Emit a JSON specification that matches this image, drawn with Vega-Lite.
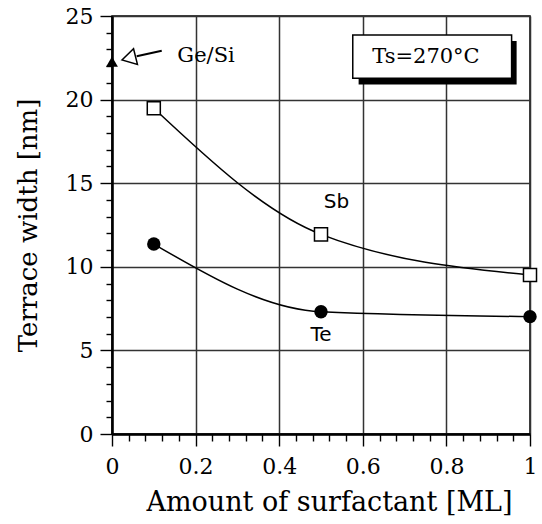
{
  "$schema": "https://vega.github.io/schema/vega-lite/v6.json",
  "width": 418,
  "height": 418,
  "autosize": "none",
  "padding": {"left": 112, "top": 16, "right": 12, "bottom": 90},
  "background": "white",
  "config": {
    "view": {"stroke": "black", "strokeWidth": 1.5},
    "axis": {
      "labelFont": "DejaVu Serif",
      "labelFontSize": 22,
      "labelColor": "black",
      "titleFont": "DejaVu Serif",
      "titleFontSize": 26,
      "titleFontWeight": "normal",
      "titleColor": "black",
      "tickColor": "black",
      "domainColor": "black",
      "gridColor": "#333333",
      "gridWidth": 1.5
    }
  },
  "datasets": {
    "series": [
      {"series": "Sb", "x": 0.1, "y": 19.48},
      {"series": "Sb", "x": 0.5, "y": 11.94},
      {"series": "Sb", "x": 1.0, "y": 9.51},
      {"series": "Te", "x": 0.1, "y": 11.36},
      {"series": "Te", "x": 0.5, "y": 7.31},
      {"series": "Te", "x": 1.0, "y": 7.02}
    ],
    "gesi": [{"x": 0, "y": 22.27}],
    "shadow": [{"x": 0.59, "x2": 0.968, "y": 23.5, "y2": 20.91}],
    "box": [{"x": 0.576, "x2": 0.956, "y": 23.86, "y2": 21.27}],
    "arrowline": [{"x": 0.059, "y": 22.59, "x2": 0.119, "y2": 22.92}],
    "arrowhead": [{"x": 0.04, "y": 22.47}],
    "serifLabels": [
      {"label": "Ge/Si", "x": 0.225, "y": 22.6},
      {"label": "Ts=270°C", "x": 0.751, "y": 22.57}
    ],
    "sansLabels": [
      {"label": "Sb", "x": 0.537, "y": 13.85},
      {"label": "Te", "x": 0.5, "y": 5.92}
    ]
  },
  "layer": [
    {
      "data": {"name": "shadow"},
      "mark": {"type": "rect", "color": "black"},
      "encoding": {
        "x": {
          "field": "x", "type": "quantitative",
          "scale": {"domain": [0, 1], "nice": false},
          "axis": {
            "orient": "bottom",
            "values": [0, 0.04, 0.08, 0.12, 0.16, 0.2, 0.24, 0.28, 0.32, 0.36, 0.4, 0.44, 0.48, 0.52, 0.56, 0.6, 0.64, 0.68, 0.72, 0.76, 0.8, 0.84, 0.88, 0.92, 0.96, 1],
            "tickCount": 200,
            "labelExpr": "abs(datum.value * 5 - round(datum.value * 5)) < 0.001 ? format(datum.value, '~g') : ''",
            "grid": true,
            "gridOpacity": {"condition": {"test": "abs(datum.value * 5 - round(datum.value * 5)) < 0.001", "value": 1}, "value": 0},
            "tickSize": {"condition": {"test": "abs(datum.value * 5 - round(datum.value * 5)) < 0.001", "value": 12}, "value": 7},
            "tickWidth": 1.4,
            "domainWidth": 2.5,
            "labelPadding": 10,
            "labelFlush": false,
            "labelOverlap": false,
            "title": "Amount of surfactant [ML]",
            "titleFontSize": 27,
            "titleX": 217,
            "titleAlign": "center",
            "titlePadding": 12
          }
        },
        "x2": {"field": "x2"},
        "y": {
          "field": "y", "type": "quantitative",
          "scale": {"domain": [0, 25], "nice": false},
          "axis": {
            "orient": "left",
            "values": [0, 1, 2, 3, 4, 5, 6, 7, 8, 9, 10, 11, 12, 13, 14, 15, 16, 17, 18, 19, 20, 21, 22, 23, 24, 25],
            "tickCount": 200,
            "labelExpr": "datum.value % 5 === 0 ? format(datum.value, 'd') : ''",
            "grid": true,
            "gridOpacity": {"condition": {"test": "datum.value % 5 === 0", "value": 1}, "value": 0},
            "tickSize": {"condition": {"test": "datum.value % 5 === 0", "value": 12}, "value": 6},
            "tickWidth": 1.4,
            "domainWidth": 2.5,
            "labelPadding": 7,
            "labelFlush": false,
            "labelOverlap": false,
            "title": "Terrace width [nm]",
            "titlePadding": 24
          }
        },
        "y2": {"field": "y2"}
      }
    },
    {
      "data": {"name": "box"},
      "mark": {"type": "rect", "fill": "white", "stroke": "black", "strokeWidth": 1.5},
      "encoding": {
        "x": {"field": "x", "type": "quantitative"},
        "x2": {"field": "x2"},
        "y": {"field": "y", "type": "quantitative"},
        "y2": {"field": "y2"}
      }
    },
    {
      "data": {"name": "series"},
      "mark": {"type": "line", "interpolate": "monotone", "color": "black", "strokeWidth": 1.5},
      "encoding": {
        "x": {"field": "x", "type": "quantitative"},
        "y": {"field": "y", "type": "quantitative"},
        "detail": {"field": "series", "type": "nominal"}
      }
    },
    {
      "data": {"name": "series"},
      "transform": [{"filter": "datum.series === 'Sb'"}],
      "mark": {"type": "point", "shape": "square", "filled": true, "fill": "white", "stroke": "black", "strokeWidth": 1.5, "size": 170, "opacity": 1},
      "encoding": {
        "x": {"field": "x", "type": "quantitative"},
        "y": {"field": "y", "type": "quantitative"}
      }
    },
    {
      "data": {"name": "series"},
      "transform": [{"filter": "datum.series === 'Te'"}],
      "mark": {"type": "point", "shape": "circle", "filled": true, "color": "black", "size": 180, "opacity": 1},
      "encoding": {
        "x": {"field": "x", "type": "quantitative"},
        "y": {"field": "y", "type": "quantitative"}
      }
    },
    {
      "data": {"name": "gesi"},
      "mark": {"type": "point", "shape": "triangle-up", "filled": true, "color": "black", "size": 140, "opacity": 1},
      "encoding": {
        "x": {"field": "x", "type": "quantitative"},
        "y": {"field": "y", "type": "quantitative"}
      }
    },
    {
      "data": {"name": "arrowline"},
      "mark": {"type": "rule", "color": "black", "strokeWidth": 2},
      "encoding": {
        "x": {"field": "x", "type": "quantitative"},
        "y": {"field": "y", "type": "quantitative"},
        "x2": {"field": "x2"},
        "y2": {"field": "y2"}
      }
    },
    {
      "data": {"name": "arrowhead"},
      "mark": {"type": "point", "shape": "triangle-left", "filled": true, "fill": "white", "stroke": "black", "strokeWidth": 1.5, "size": 260, "angle": 346, "opacity": 1},
      "encoding": {
        "x": {"field": "x", "type": "quantitative"},
        "y": {"field": "y", "type": "quantitative"}
      }
    },
    {
      "data": {"name": "serifLabels"},
      "mark": {"type": "text", "font": "DejaVu Serif", "fontSize": 21, "color": "black", "align": "center", "baseline": "middle"},
      "encoding": {
        "x": {"field": "x", "type": "quantitative"},
        "y": {"field": "y", "type": "quantitative"},
        "text": {"field": "label"}
      }
    },
    {
      "data": {"name": "sansLabels"},
      "mark": {"type": "text", "font": "DejaVu Sans", "fontSize": 20, "color": "black", "align": "center", "baseline": "middle"},
      "encoding": {
        "x": {"field": "x", "type": "quantitative"},
        "y": {"field": "y", "type": "quantitative"},
        "text": {"field": "label"}
      }
    }
  ]
}
